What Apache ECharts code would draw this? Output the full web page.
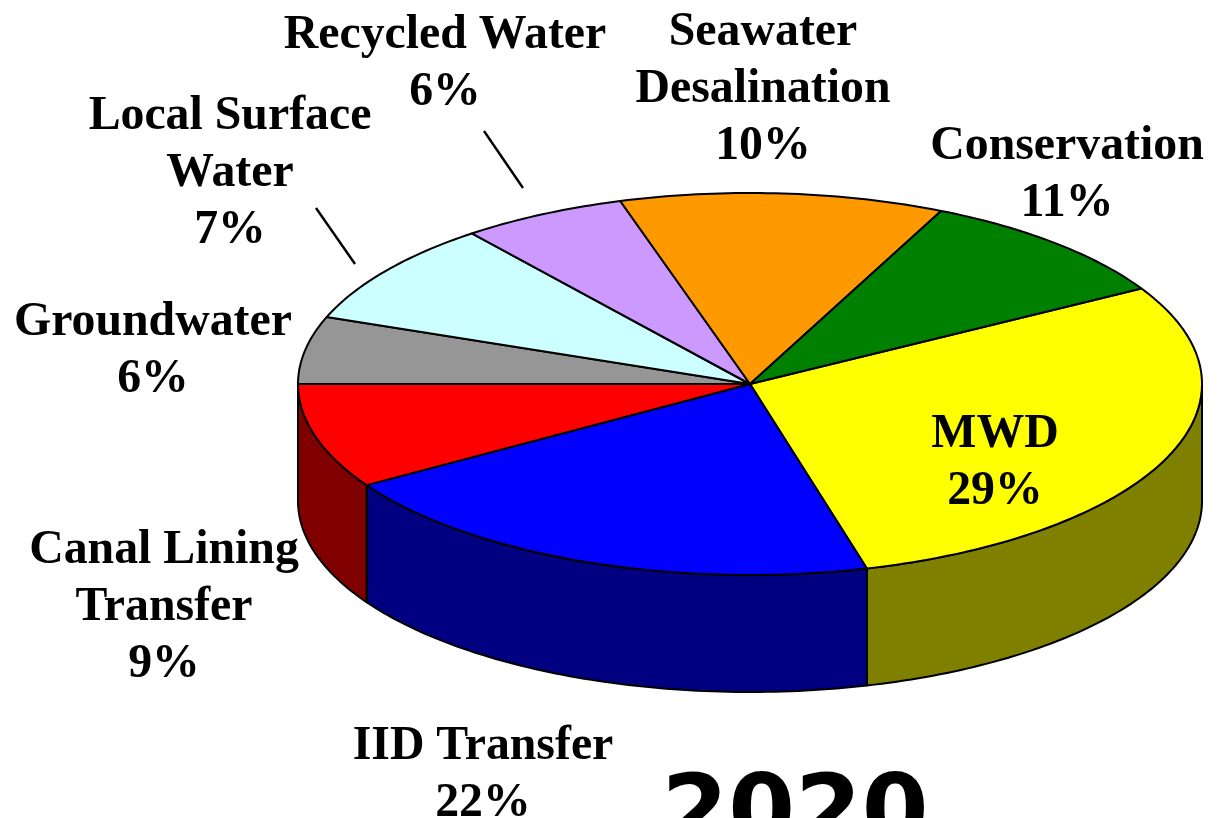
<!DOCTYPE html>
<html><head><meta charset="utf-8">
<style>html,body{margin:0;padding:0;background:#fff}#c{width:1219px;height:818px}</style>
<script src="https://cdn.jsdelivr.net/npm/echarts@6/dist/echarts.min.js"></script>
</head><body><div id="c"></div>
<script>
// Data
const categories = ['MWD','IID Transfer','Canal Lining\nTransfer','Groundwater','Local Surface\nWater','Recycled Water','Seawater\nDesalination','Conservation'];
const labelPercents = [29,22,9,6,7,6,10,11];
// slice sizes as drawn (share of the ellipse, % of a full turn)
const drawnShares = [29.17,20.28,8.89,5.69,8.75,5.92,11.58,9.72];
const topColors = ['#ffff00','#0000ff','#ff0000','#969696','#ccffff','#cc99ff','#ff9900','#008000'];
const sideColors = ['#808000','#000080','#800000','#4b4b4b','#668080','#664c80','#804c00','#004000'];

// Layout
const CX=750, CY=384, RX=452, RY=191, DEPTH=117, START=30;
const labelPos = [[995,459],[483,771],[164,604],[153,347],[230,170],[445,60],[763,86],[1067,171]];
const LABEL_SHIFT=4;

const total = drawnShares.reduce((a,b)=>a+b,0);
const dataRows = drawnShares.map((v,i)=>[v,i]);
function startOf(i){let s=0;for(let k=0;k<i;k++)s+=drawnShares[k];return START-s/total*360;}
function pt(deg,dy){const r=deg*Math.PI/180;return [CX+RX*Math.cos(r),CY-RY*Math.sin(r)+(dy||0)];}
function arc(a,b,dy){const out=[];const n=Math.max(2,Math.ceil(Math.abs(a-b)));for(let j=0;j<=n;j++)out.push(pt(a+(b-a)*j/n,dy));return out;}

const line={stroke:'#000',lineWidth:2,lineJoin:'round'};
function renderSide(params,api){
  const i=api.value(1), a=startOf(i), b=a-api.value(0)/total*360;
  // visible front wall: angles between 0 and -180
  const hi=Math.min(a,0), lo=Math.max(b,-180);
  if(hi<=lo) return {type:'group',children:[]};
  const top=arc(hi,lo,0), bottom=arc(lo,hi,DEPTH);
  return {type:'polygon',shape:{points:top.concat(bottom)},style:Object.assign({fill:sideColors[i]},line)};
}
function renderTop(params,api){
  const i=api.value(1), a=startOf(i), b=a-api.value(0)/total*360;
  return {type:'polygon',shape:{points:[[CX,CY]].concat(arc(a,b,0))},style:Object.assign({fill:topColors[i]},line)};
}
const textFont='bold 47.8px "Liberation Serif","Times New Roman",serif';
const chart=echarts.init(document.getElementById('c'),null,{renderer:'canvas',width:1219,height:818});
chart.setOption({
  backgroundColor:'#fff',animation:false,
  series:[
    {type:'custom',coordinateSystem:'none',renderItem:renderSide,data:dataRows,silent:true,z:1},
    {type:'custom',coordinateSystem:'none',renderItem:renderTop,data:dataRows,silent:true,z:2}
  ],
  graphic:[
    ...categories.map((c,i)=>{
      const lines=(c+'\n'+labelPercents[i]+'%').split('\n');
      const h=lines.length*57;
      return {type:'text',x:labelPos[i][0],y:labelPos[i][1]-h/2+LABEL_SHIFT,z:10,
        style:{text:lines.join('\n'),font:textFont,fill:'#000',align:'center',verticalAlign:'top',lineHeight:57}};
    }),
    {type:'text',x:795,y:770,z:10,style:{text:'2020',font:'bold 96px "DejaVu Sans",sans-serif',fill:'#000',align:'center',verticalAlign:'top'}},
    {type:'line',z:10,shape:{x1:316,y1:208,x2:355,y2:264},style:{stroke:'#000',lineWidth:2.4}},
    {type:'line',z:10,shape:{x1:484,y1:131,x2:523,y2:188},style:{stroke:'#000',lineWidth:2.4}}
  ]
});
</script></body></html>
